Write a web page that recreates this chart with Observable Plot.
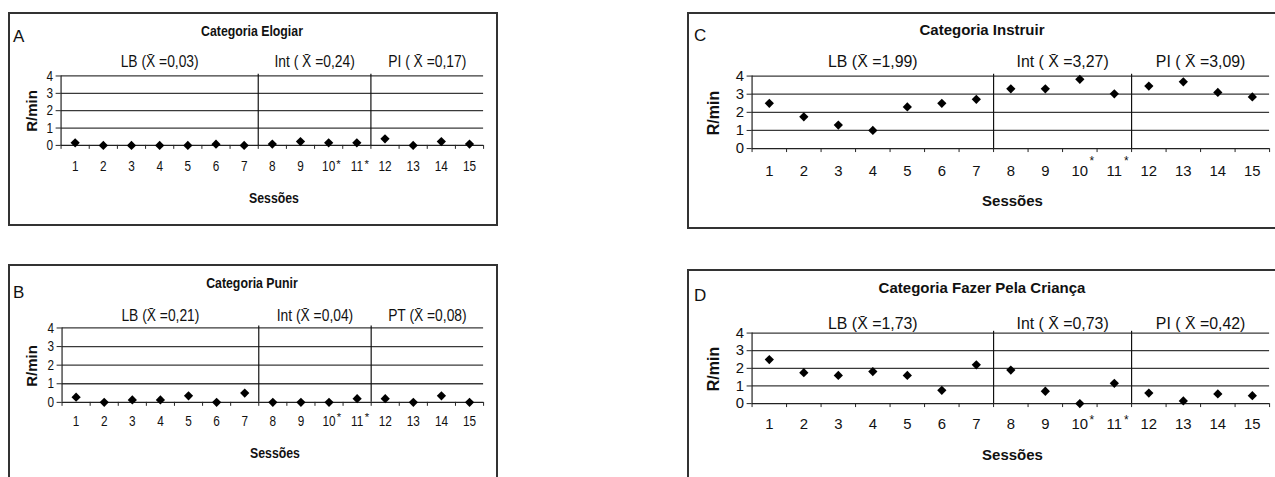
<!DOCTYPE html>
<html><head><meta charset="utf-8">
<script src="https://cdn.jsdelivr.net/npm/d3@7"></script>
<script src="https://cdn.jsdelivr.net/npm/@observablehq/plot@0.6"></script>
<style>
html,body{margin:0;padding:0;background:#fff;}
body{width:1275px;height:477px;overflow:hidden;position:relative;}
.panel{position:absolute;box-sizing:border-box;border:2px solid #333;background:#fff;}
.panel svg{position:absolute;left:-2px;top:-2px;overflow:visible;}
.lbl{position:absolute;white-space:nowrap;color:#111;line-height:1;}
</style></head><body>
<script>
// ---- data ----
const sessions = [1,2,3,4,5,6,7,8,9,10,11,12,13,14,15];
const yTicks = [0,1,2,3,4];
const starredSessions = [10,11];
const phaseRanges = [[1,7],[8,11],[12,15]];

const elogiar  = [0.15,0,0,0,0,0.07,0,0.08,0.22,0.15,0.15,0.38,0,0.22,0.08];
const punir    = [0.28,0,0.13,0.13,0.35,0,0.5,0,0,0,0.2,0.2,0,0.35,0];
const instruir = [2.5,1.75,1.3,1.0,2.3,2.5,2.72,3.3,3.3,3.82,3.02,3.45,3.68,3.1,2.85];
const fazer    = [2.5,1.75,1.6,1.82,1.6,0.75,2.2,1.9,0.7,0,1.15,0.6,0.15,0.55,0.45];

const phaseLabelsA = ["LB (X\u0304 =0,03)", "Int ( X\u0304 =0,24)", "PI ( X\u0304 =0,17)"];
const phaseLabelsB = ["LB (X\u0304 =0,21)", "Int (X\u0304 =0,04)", "PT (X\u0304 =0,08)"];
const phaseLabelsC = ["LB (X\u0304 =1,99)", "Int ( X\u0304 =3,27)", "PI ( X\u0304 =3,09)"];
const phaseLabelsD = ["LB (X\u0304 =1,73)", "Int ( X\u0304 =0,73)", "PI ( X\u0304 =0,42)"];

const titles = ["Categoria Elogiar","Categoria Punir","Categoria Instruir","Categoria Fazer Pela Criança"];
const letters = ["A","B","C","D"];
const yLabel = "R/min";
const xLabel = "Sessões";

// ---- layout (page pixel positions) ----
const FONT = '"Liberation Sans",Arial,sans-serif';
const panels = [
  {values: elogiar, phases: phaseLabelsA, title: titles[0], letter: letters[0], squeeze: 0.82, fs: 14.5, pfs: 17, tfs: 15, sfs: 15, rfs: 15,
   box:[8,12,490,214], plot:[61,487,76,146], titleXY:[252,30], letterXY:[13,36], phaseDy:-14, tickPad:16,
   sessY:197, rminX:31, starDx:10, starDy:19},
  {values: punir, phases: phaseLabelsB, title: titles[1], letter: letters[1], squeeze: 0.82, fs: 14.5, pfs: 17, tfs: 15, sfs: 15, rfs: 15,
   box:[8,264,490,260], plot:[62,487,328,403], titleXY:[252,282], letterXY:[13,292], phaseDy:-12, tickPad:14,
   sessY:452, rminX:31, starDx:10, starDy:15},
  {values: instruir, phases: phaseLabelsC, title: titles[2], letter: letters[2], squeeze: 1, fs: 15, pfs: 16, tfs: 15, sfs: 15, rfs: 16,
   box:[687,12,600,217], plot:[752,1273,76,149], titleXY:[982,29], letterXY:[694,35], phaseDy:-14, tickPad:17,
   sessY:200, rminX:714, starDx:12, starDy:13},
  {values: fazer, phases: phaseLabelsD, title: titles[3], letter: letters[3], squeeze: 1, fs: 15, pfs: 16, tfs: 15, sfs: 15, rfs: 16,
   box:[687,269,600,260], plot:[752,1273,333,404], titleXY:[982,287], letterXY:[694,295], phaseDy:-9, tickPad:15,
   sessY:454, rminX:714, starDx:12, starDy:17}
];

function addLabel(text, x, y, css) {
  const d = document.createElement("div");
  d.className = "lbl";
  d.textContent = text;
  d.style.left = x + "px";
  d.style.top = y + "px";
  Object.assign(d.style, css);
  document.body.appendChild(d);
  return d;
}

const xDomain = [sessions[0] - 0.5, sessions[sessions.length - 1] + 0.5];
const boundaries = d3.range(xDomain[0], xDomain[1] + 0.01, 1);

for (const p of panels) {
  const [bx, by, bw, bh] = p.box;
  const [x0, x1, yT, yB] = p.plot;
  const data = sessions.map((s, i) => ({session: s, value: p.values[i]}));
  const phases = phaseRanges.map(([a, b], i) => ({center: (a + b) / 2, label: p.phases[i]}));
  const separators = phaseRanges.slice(0, -1).map(([a, b]) => b + 0.5);

  const div = document.createElement("div");
  div.className = "panel";
  Object.assign(div.style, {left: bx + "px", top: by + "px", width: bw + "px", height: bh + "px"});
  document.body.appendChild(div);

  const svg = Plot.plot({
    width: bw, height: bh,
    marginLeft: x0 - bx, marginRight: bw - (x1 - bx),
    marginTop: yT - by, marginBottom: bh - (yB - by),
    x: {type: "linear", domain: xDomain},
    y: {domain: [yTicks[0], yTicks[yTicks.length - 1]]},
    style: {fontFamily: FONT, fontSize: p.fs + "px", color: "#111", background: "transparent", overflow: "visible"},
    marks: [
      Plot.ruleY(yTicks.slice(1), {stroke: "#3a3a3a", strokeWidth: 1.3}),
      Plot.ruleY([yTicks[0]], {stroke: "#222", strokeWidth: 1.3}),
      Plot.ruleX([xDomain[0]], {y1: yTicks[0], y2: yTicks[yTicks.length - 1], stroke: "#222", strokeWidth: 1.2}),
      Plot.axisY({ticks: yTicks, tickSize: 5, tickPadding: 3, tickFormat: d => d, label: null, fontSize: p.fs, stroke: "#222"}),
      Plot.axisX({ticks: boundaries, tickSize: 4, tickFormat: () => "", label: null, stroke: "#222"}),
      Plot.axisX({ticks: sessions, tickSize: 0, tickPadding: p.tickPad, tickFormat: d => d, label: null, fontSize: p.fs}),
      Plot.text(starredSessions, {x: d => d, y: yTicks[0], text: () => "*", dx: p.starDx, dy: p.starDy, fontSize: p.fs - 3, fill: "#111"}),
      Plot.ruleX(separators, {y1: yTicks[0], y2: yTicks[yTicks.length - 1] + 0.1, stroke: "#111", strokeWidth: 1.2}),
      Plot.text(phases, {x: "center", y: yTicks[yTicks.length - 1], text: "label", dy: p.phaseDy, fontSize: p.pfs, fill: "#111", lineAnchor: "middle"}),
      Plot.dot(data, {x: "session", y: "value", symbol: "diamond2", r: 4.2, fill: "#000", stroke: "none"})
    ]
  });
  div.appendChild(svg);

  // horizontally condensed lettering for the narrower panels
  if (p.squeeze !== 1) {
    svg.querySelectorAll("text").forEach(t => {
      if (!t.textContent || t.textContent === "*") return;
      const L = t.getComputedTextLength();
      if (L > 0) {
        t.setAttribute("textLength", (L * p.squeeze).toFixed(2));
        t.setAttribute("lengthAdjust", "spacingAndGlyphs");
      }
    });
  }

  addLabel(p.title, p.titleXY[0], p.titleXY[1], {fontFamily: FONT, fontWeight: "bold", fontSize: p.tfs + "px", transform: `translate(-50%,-50%) scaleX(${p.squeeze})`});
  addLabel(p.letter, p.letterXY[0], p.letterXY[1], {fontFamily: FONT, fontSize: "17px", transform: "translateY(-50%)"});
  addLabel(xLabel, (x0 + x1) / 2, p.sessY, {fontFamily: FONT, fontWeight: "bold", fontSize: p.sfs + "px", transform: `translate(-50%,-50%) scaleX(${p.squeeze})`});
  addLabel(yLabel, p.rminX, (yT + yB) / 2, {fontFamily: FONT, fontWeight: "bold", fontSize: p.rfs + "px", transform: "translate(-50%,-50%) rotate(-90deg)"});
}
</script>
</body></html>
